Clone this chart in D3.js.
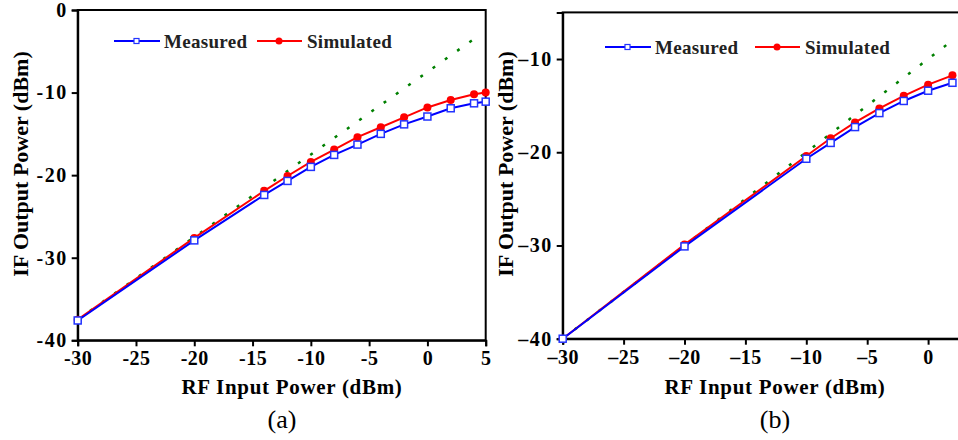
<!DOCTYPE html>
<html>
<head>
<meta charset="utf-8">
<script src="https://cdn.jsdelivr.net/npm/d3@7"></script>
<style>
  body { margin: 0; background: #fff; }
  svg { display: block; }
  text { font-family: 'Liberation Serif', 'Times New Roman', serif; }
</style>
</head>
<body>
<script>
// panel (a)
const xA = [-30, -20, -14, -12, -10, -8, -6, -4, -2, 0, 2, 4, 5];
const measuredA = [-37.6, -27.9, -22.4, -20.7, -19.0, -17.55, -16.3, -15.0, -13.85, -12.9, -11.9, -11.3, -11.1];
const simulatedA = [-37.5, -27.6, -21.9, -20.1, -18.4, -16.9, -15.4, -14.2, -13.0, -11.8, -10.9, -10.2, -10.0];
const idealA = [[-30, -37.5], [4.5, -3.0]];

// panel (b)
const xB = [-30, -20, -10, -8, -6, -4, -2, 0, 2];
const measuredB = [-40.0, -30.1, -20.7, -19.0, -17.3, -15.8, -14.5, -13.4, -12.55];
const simulatedB = [-40.0, -29.9, -20.4, -18.5, -16.8, -15.3, -13.95, -12.75, -11.75];
const idealB = [[-30, -40.0], [2, -8.0]];

const xTicksA = [-30, -25, -20, -15, -10, -5, 0, 5];
const xTicksB = [-30, -25, -20, -15, -10, -5, 0];
const yTicksA = [0, -10, -20, -30, -40];
const yTicksB = [-10, -20, -30, -40];

const width = 958;
const height = 440;

const svg = d3.select('body')
  .append('svg')
  .attr('width', width)
  .attr('height', height);

const panels = [
  {
    xs: xA, measured: measuredA, simulated: simulatedA, ideal: idealA,
    x: d3.scaleLinear().domain([-30, 5]).range([77.7, 485.7]),
    y: d3.scaleLinear().domain([-40, 0]).range([340.3, 10]),
    xTicks: xTicksA, yTicks: yTicksA, dash: '-', label: '(a)', labelX: 282, titleX: 292,
    yTitleX: 28, legendX: 114, legendY: 41, gap: 93
  },
  {
    xs: xB, measured: measuredB, simulated: simulatedB, ideal: idealB,
    x: d3.scaleLinear().domain([-30, 5]).range([562.7, 989]),
    y: d3.scaleLinear().domain([-40, -5]).range([338.7, 12.4]),
    xTicks: xTicksB, yTicks: yTicksB, dash: '\u2013', label: '(b)', labelX: 775, titleX: 775,
    yTitleX: 513, legendX: 605, legendY: 47, gap: 100
  }
];

panels.forEach(p => {
  const g = svg.append('g');
  const x = p.x, y = p.y;
  const fmt = d => (d < 0 ? p.dash + Math.abs(d) : '' + d);

  // frame
  g.append('rect')
    .attr('x', x.range()[0])
    .attr('y', y.range()[1])
    .attr('width', x.range()[1] - x.range()[0])
    .attr('height', y.range()[0] - y.range()[1])
    .attr('fill', 'none')
    .attr('stroke', '#000')
    .attr('stroke-width', 2);

  const xAxis = g.append('g')
    .attr('transform', `translate(0,${y.range()[0]})`)
    .call(d3.axisBottom(x).tickValues(p.xTicks).tickSize(6).tickPadding(5).tickFormat(fmt));
  xAxis.select('.domain').attr('stroke-width', 2);
  xAxis.selectAll('line').attr('stroke-width', 2);
  xAxis.selectAll('text')
    .attr('font-size', 20).attr('font-weight', 'bold').attr('fill', '#000')
    .attr('font-family', "'Liberation Serif', serif")
    .style('letter-spacing', '0.5px');

  const yAxis = g.append('g')
    .attr('transform', `translate(${x.range()[0]},0)`)
    .call(d3.axisLeft(y).tickValues(p.yTicks).tickSize(6).tickPadding(4).tickFormat(fmt));
  yAxis.select('.domain').attr('stroke-width', 2);
  yAxis.selectAll('line').attr('stroke-width', 2);
  yAxis.selectAll('text')
    .attr('font-size', 20).attr('font-weight', 'bold').attr('fill', '#000')
    .attr('font-family', "'Liberation Serif', serif")
    .style('letter-spacing', '1.5px');

  // ideal linear response
  g.append('path')
    .datum(p.ideal)
    .attr('d', d3.line().x(d => x(d[0])).y(d => y(d[1])))
    .attr('fill', 'none')
    .attr('stroke', '#008000')
    .attr('stroke-width', 2.5)
    .attr('stroke-dasharray', '3,12');

  const sim = p.xs.map((v, i) => [v, p.simulated[i]]);
  const meas = p.xs.map((v, i) => [v, p.measured[i]]);
  const line = d3.line().x(d => x(d[0])).y(d => y(d[1]));

  g.append('path').datum(sim).attr('d', line)
    .attr('fill', 'none').attr('stroke', '#ff0000').attr('stroke-width', 2);
  g.selectAll('.sim').data(sim).enter().append('circle')
    .attr('class', 'sim')
    .attr('cx', d => x(d[0])).attr('cy', d => y(d[1])).attr('r', 4)
    .attr('fill', '#ff0000');

  g.append('path').datum(meas).attr('d', line)
    .attr('fill', 'none').attr('stroke', '#0000ff').attr('stroke-width', 2);
  g.selectAll('.meas').data(meas).enter().append('rect')
    .attr('class', 'meas')
    .attr('x', d => x(d[0]) - 3.5).attr('y', d => y(d[1]) - 3.5)
    .attr('width', 7).attr('height', 7)
    .attr('fill', '#fff').attr('stroke', '#2233ff').attr('stroke-width', 1.5);

  // legend
  const lg = g.append('g').attr('transform', `translate(${p.legendX},${p.legendY})`);
  lg.append('line').attr('x1', 0).attr('x2', 46).attr('y1', 0).attr('y2', 0)
    .attr('stroke', '#0000ff').attr('stroke-width', 2);
  lg.append('rect').attr('x', 20).attr('y', -2.5).attr('width', 5).attr('height', 5)
    .attr('fill', '#fff').attr('stroke', '#2233ff').attr('stroke-width', 1.2);
  lg.append('text').attr('x', 50).attr('y', 6.5)
    .attr('font-size', 19).attr('font-weight', 'bold').attr('fill', '#222')
    .style('letter-spacing', '0.3px')
    .text('Measured');
  const rx = 50 + p.gap;
  lg.append('line').attr('x1', rx).attr('x2', rx + 45).attr('y1', 0).attr('y2', 0)
    .attr('stroke', '#ff0000').attr('stroke-width', 2);
  lg.append('circle').attr('cx', rx + 22).attr('cy', 0).attr('r', 3.5).attr('fill', '#ff0000');
  lg.append('text').attr('x', rx + 50).attr('y', 6.5)
    .attr('font-size', 19).attr('font-weight', 'bold').attr('fill', '#222')
    .style('letter-spacing', '0.3px')
    .text('Simulated');

  // titles
  g.append('text')
    .attr('x', p.titleX).attr('y', 394)
    .attr('text-anchor', 'middle')
    .attr('font-size', 21).attr('font-weight', 'bold')
    .style('letter-spacing', '0.7px')
    .text('RF Input Power (dBm)');

  g.append('text')
    .attr('transform', `translate(${p.yTitleX},164) rotate(-90)`)
    .attr('text-anchor', 'middle')
    .attr('font-size', 22).attr('font-weight', 'bold')
    .text('IF Output Power (dBm)');

  g.append('text')
    .attr('x', p.labelX).attr('y', 428)
    .attr('text-anchor', 'middle')
    .attr('font-size', 26)
    .text(p.label);
});
</script>
</body>
</html>
